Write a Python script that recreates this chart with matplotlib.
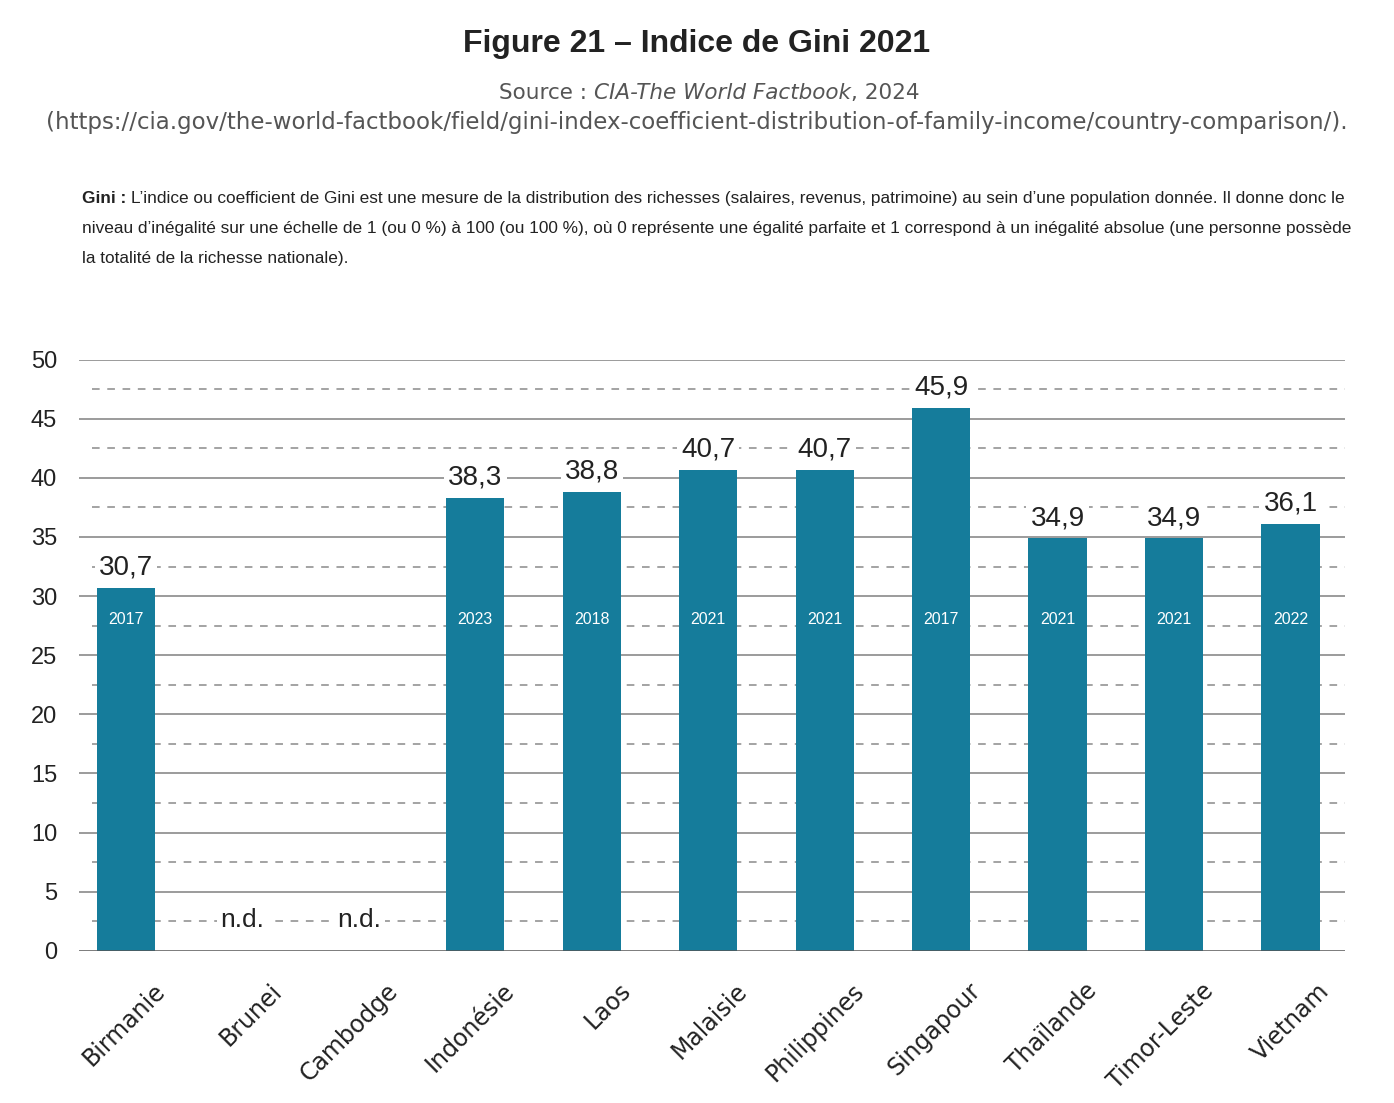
import matplotlib
matplotlib.use("Agg")
import matplotlib.pyplot as plt
from matplotlib.transforms import ScaledTranslation

# data
countries = ["Birmanie", "Brunei", "Cambodge", "Indonésie", "Laos", "Malaisie",
             "Philippines", "Singapour", "Thaïlande", "Timor-Leste", "Vietnam"]
gini = [30.7, None, None, 38.3, 38.8, 40.7, 40.7, 45.9, 34.9, 34.9, 36.1]
years = ["2017", "", "", "2023", "2018", "2021", "2021", "2017", "2021", "2021", "2022"]
yticks = [0, 5, 10, 15, 20, 25, 30, 35, 40, 45, 50]

title = "Figure 21 – Indice de Gini 2021"
source_url = ("(https://cia.gov/the-world-factbook/field/gini-index-coefficient-"
              "distribution-of-family-income/country-comparison/).")
note_lines = [
    "L’indice ou coefficient de Gini est une mesure de la distribution des richesses "
    "(salaires, revenus, patrimoine) au sein d’une population donnée. Il donne donc le",
    "niveau d’inégalité sur une échelle de 1 (ou 0 %) à 100 (ou 100 %), où 0 représente "
    "une égalité parfaite et 1 correspond à un inégalité absolue (une personne possède",
    "la totalité de la richesse nationale).",
]

BAR = "#157c9b"
INK = "#222222"
GREY = "#555555"
NARROW = "Liberation Sans"
WIDE = "DejaVu Sans"

fig = plt.figure(figsize=(13.94, 11.03), dpi=100)
ax = fig.add_axes([0.057, 0.138, 0.908, 0.536])

x = list(range(len(countries)))
heights = [v if v is not None else 0 for v in gini]
ax.bar(x, heights, width=0.5, color=BAR, zorder=3)

ax.set_xlim(-0.4, 10.47)
ax.set_ylim(0, 50)

# grid: solid at multiples of 5, dashed halfway between
for y in yticks[1:]:
    ax.axhline(y, color="#8a8a8a", lw=1.2, zorder=1)
for y in yticks[:-1]:
    ax.axhline(y + 2.5, xmin=0.01, color="#8a8a8a", lw=1.1, ls=(0, (5, 5)), zorder=1)
ax.axhline(0, color="#555555", lw=1.8, zorder=4)

for s in ax.spines.values():
    s.set_visible(False)

ax.set_yticks(yticks)
ax.set_yticklabels([str(v) for v in yticks], fontfamily=NARROW, fontsize=17, color=INK)
ax.tick_params(axis="y", length=0, pad=16)
ax.set_xticks(x)
ax.set_xticklabels(countries, rotation=45, ha="right", rotation_mode="anchor",
                   fontfamily=WIDE, fontsize=17, color=INK)
ax.tick_params(axis="x", length=0, pad=20)
for lab in ax.get_xticklabels():
    lab.set_transform(lab.get_transform() + ScaledTranslation(0.27, 0, fig.dpi_scale_trans))

for xi, v, yr in zip(x, gini, years):
    if v is None:
        ax.text(xi, 2.6, "n.d.", ha="center", va="center", fontfamily=NARROW,
                fontsize=19, color=INK, zorder=5,
                bbox=dict(boxstyle="square,pad=0.15", fc="white", ec="none"))
        continue
    ax.text(xi, v + 0.6, f"{v:.1f}".replace(".", ","), ha="center", va="bottom",
            fontfamily=NARROW, fontsize=20, color=INK, zorder=5,
            bbox=dict(boxstyle="square,pad=0.15", fc="white", ec="none"))
    ax.text(xi, 28.0, yr, ha="center", va="center", fontfamily=NARROW,
            fontsize=11.5, color="white", zorder=5)

# header texts
fig.text(0.5, 0.960, title, ha="center", va="center", fontfamily=NARROW,
         fontweight="bold", fontsize=23, color=INK)
t1 = fig.text(0.358, 0.916, "Source : ", ha="left", va="center", fontfamily=WIDE,
              fontsize=15.5, color=GREY)
t2 = plt.annotate("CIA-The World Factbook", xy=(1, 0), xycoords=t1, va="bottom",
                  fontfamily=WIDE, fontsize=15.5, style="italic", color=GREY,
                  annotation_clip=False)
plt.annotate(", 2024", xy=(1, 0), xycoords=t2, va="bottom", fontfamily=WIDE,
             fontsize=15.5, color=GREY, annotation_clip=False)
fig.text(0.5, 0.889, source_url, ha="center", va="center", fontfamily=WIDE,
         fontsize=16.5, color=GREY)

g = fig.text(0.059, 0.820, "Gini : ", ha="left", va="center", fontfamily=NARROW,
             fontweight="bold", fontsize=12.4, color=INK)
plt.annotate(note_lines[0], xy=(1, 0), xycoords=g, va="bottom", fontfamily=NARROW,
             fontsize=12.4, color=INK, annotation_clip=False)
fig.text(0.059, 0.793, note_lines[1], ha="left", va="center", fontfamily=NARROW,
         fontsize=12.4, color=INK)
fig.text(0.059, 0.766, note_lines[2], ha="left", va="center", fontfamily=NARROW,
         fontsize=12.4, color=INK)

fig.savefig("out.png", dpi=100, facecolor="white")
